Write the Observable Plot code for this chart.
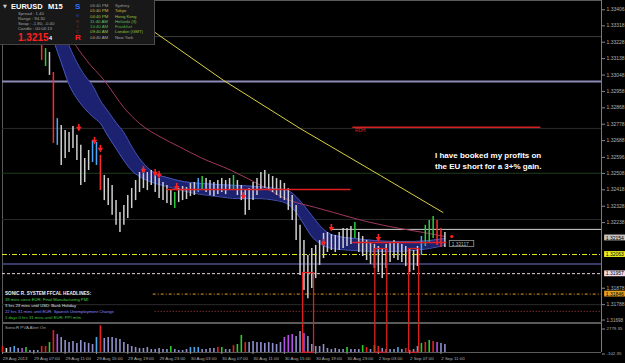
<!DOCTYPE html>
<html>
<head>
<meta charset="utf-8">
<script src="https://cdn.jsdelivr.net/npm/d3@7"></script>
<script src="https://cdn.jsdelivr.net/npm/@observablehq/plot@0.6"></script>
<style>
  html, body { margin:0; padding:0; background:#000; }
  #wrap { position:relative; width:625px; height:363px; overflow:hidden; background:#000; font-family:"Liberation Sans", Arial, sans-serif; }
  #wrap svg { display:block; }
  .t { position:absolute; white-space:nowrap; line-height:1; }
</style>
</head>
<body>
<div id="wrap"></div>
<script>
// ---------------- DATA ----------------
const candleBar = [20,22,24,26,28,30,32,34,36,38,40,42,44,46,48,50,52,54,56,58,60,62,64,66,68,70,72,74,76,78,80,82,84,86,88,90,92,94,96,98,100,102,104,106,108,110,112,114,116,118,120,122,124,126,128,130,132,134,136,138,140,142,144,146,148,150,152,154,156,158,160,162,164,166,168,170,172,174,176,178,180,182,184,186,188,190,192,194,196,198,200,202,204,206,208,210,212,214,216,218,220,222,224,226];
const candleHigh = [1.33215,1.33193,1.33172,1.33062,1.32809,1.32771,1.32744,1.32733,1.32765,1.32717,
 1.32662,1.32590,1.32634,1.32689,1.32678,1.32607,1.32497,1.32480,1.32442,1.32359,
 1.32294,1.32332,1.32387,1.32425,1.32469,1.32513,1.32535,1.32513,1.32524,1.32497,
 1.32480,1.32458,1.32442,1.32414,1.32403,1.32425,1.32436,1.32431,1.32453,1.32458,
 1.32480,1.32491,1.32480,1.32469,1.32458,1.32469,1.32480,1.32469,1.32480,1.32497,
 1.32469,1.32442,1.32414,1.32425,1.32458,1.32480,1.32513,1.32524,1.32502,1.32491,
 1.32480,1.32469,1.32453,1.32425,1.32387,1.32332,1.32223,1.32140,1.32058,1.32096,
 1.32113,1.32140,1.32179,1.32184,1.32173,1.32168,1.32184,1.32206,1.32206,1.32217,
 1.32239,1.32184,1.32162,1.32140,1.32129,1.32118,1.32107,1.32096,1.32118,1.32129,
 1.32140,1.32129,1.32118,1.32107,1.32096,1.32085,1.32107,1.32162,1.32223,1.32250,
 1.32272,1.32250,1.32206,1.32184];
const candleLow = [1.33128,1.33095,1.33046,1.32673,1.32662,1.32552,1.32590,1.32623,1.32645,1.32579,
 1.32442,1.32458,1.32524,1.32568,1.32552,1.32414,1.32359,1.32332,1.32278,1.32223,
 1.32184,1.32223,1.32261,1.32315,1.32359,1.32403,1.32425,1.32414,1.32442,1.32403,
 1.32370,1.32359,1.32343,1.32332,1.32315,1.32348,1.32359,1.32365,1.32381,1.32387,
 1.32403,1.32414,1.32403,1.32387,1.32381,1.32392,1.32403,1.32392,1.32414,1.32414,
 1.32387,1.32359,1.32278,1.32305,1.32359,1.32387,1.32414,1.32425,1.32414,1.32403,
 1.32387,1.32370,1.32359,1.32305,1.32250,1.32140,1.31948,1.31865,1.31821,1.31876,
 1.31931,1.32003,1.32041,1.32074,1.32085,1.32074,1.32085,1.32096,1.32107,1.32118,
 1.32151,1.32074,1.32052,1.32030,1.32008,1.31986,1.31964,1.31931,1.31986,1.32019,
 1.32041,1.32030,1.32019,1.31997,1.31964,1.31975,1.31997,1.32058,1.32107,1.32129,
 1.32151,1.32113,1.32102,1.32102];
const candleSignal = ("rgwrbwwwww"+"wwwbbrwwww"+"wwwwwwwwww"+"wwwwgwwwww"+"bgwwwwwwwg"+
  "wwwwwwwwww"+"wwwwwwwwww"+"wwwwwwwwww"+"gwwwwwwwww"+"wwwwwwwbgg"+"grrw").split("");

const ribbonBar = [22,26,30,34,38,42,46,50,54,58,62,66,70,74,78,84,90,96,102,110,120,130,140,146,150,154,158,162,166,172,180,190,200,210,218,226];
const ribbonUpper = [1.33457,1.33402,1.33320,1.33210,1.33117,1.33046,1.32991,1.32908,1.32848,1.32787,
 1.32733,1.32656,1.32590,1.32541,1.32508,1.32486,1.32469,1.32458,1.32453,1.32447,
 1.32442,1.32436,1.32425,1.32414,1.32381,1.32332,1.32278,1.32223,1.32184,1.32162,
 1.32151,1.32140,1.32135,1.32135,1.32140,1.32151];
const ribbonLower = [1.33336,1.33237,1.33117,1.32996,1.32919,1.32864,1.32820,1.32782,1.32711,1.32645,
 1.32579,1.32524,1.32491,1.32469,1.32453,1.32436,1.32420,1.32403,1.32392,1.32381,
 1.32370,1.32370,1.32359,1.32337,1.32294,1.32228,1.32162,1.32124,1.32102,1.32091,
 1.32085,1.32080,1.32080,1.32085,1.32096,1.32113];

const maBar = [31,36,43,52,62,70,81,91,101,117,132,147,160,169,186,203,215,226];
const maPrice = [1.33347,1.33237,1.33128,1.33018,1.32870,1.32782,1.32706,1.32651,1.32596,1.32524,1.32442,1.32359,1.32321,1.32294,1.32244,1.32206,1.32184,1.32162];

const slowBar = [78,113,152,193,225];
const slowPrice = [1.33281,1.33018,1.32755,1.32497,1.32294];

const levelPrice = [1.33259,1.33013,1.32755,1.32761,1.32509,1.32420,1.32255,1.32201,1.32129,1.32063,1.32011,1.31958,1.31846,1.31788,1.31751];
const levelFrom  = [78,0,0,179,0,84,0,168,179,0,0,0,77,0,78];
const levelTo    = [306,306,306,275,306,178,306,306,227,306,306,306,306,306,306];
const levelKind  = ["grid2","weekly","grid","rdh","green","redbox","grid","white","redbox","yellow","blue","pink","orange","grid","reddot"];

const zoneFrom = [153.3,190.2,207.5];
const zoneTo   = [158.9,196.3,212.6];
const zoneTop  = [1.31964,1.32096,1.32096];

const arrowBar = [39,47,50,72,78,80,89,123,164,168,192];
const arrowPrice = [1.32755,1.32684,1.32640,1.32524,1.32508,1.32497,1.32431,1.32381,1.32124,1.32206,1.32151];

const yTicks = [1.33406,1.33318,1.33228,1.33138,1.33048,1.32958,1.32868,1.32778,1.32688,1.32596,1.32508,1.32418,1.32328,1.32238,1.31878,1.31788];
const yTickBottom = [1.31698];
const boxPrice = [1.32154,1.32063,1.31957,1.31846];
const boxKind = ["bid","yellow","pink","orange"];
const tagBar = [228.5], tagPrice = [1.32121], tagText = ["1.32117"];
const dotBar = [229.5], dotPrice = [1.32162];

const volBar = [0,2,4,6,8,10,12,14,16,18,20,22,24,26,28,30,32,34,36,38,40,42,44,46,48,50,52,54,56,58,60,62,64,66,68,70,72,74,76,78,80,82,84,86,88,90,92,94,96,98,100,102,104,106,108,110,112,114,116,118,120,122,124,126,128,130,132,134,136,138,140,142,144,146,148,150,152,154,156,158,160,162,164,166,168,170,172,174,176,178,180,182,184,186,188,190,192,194,196,198,200,202,204,206,208,210,212,214,216,218,220,222,224,226];
const volValue = [590,360,470,590,360,360,470,130,130,130,
 590,590,1050,2430,1970,1630,1280,1050,1170,940,
 1280,1050,940,820,1630,2980,1510,1630,1630,1510,
 1400,1050,820,590,470,360,360,470,240,240,
 360,240,240,590,240,130,130,240,470,470,
 470,240,240,360,360,470,470,240,240,700,
 820,1860,1050,1050,1170,1050,1050,940,1050,940,
 820,1050,1630,1860,1970,1740,2320,2090,1740,820,
 590,590,820,360,240,360,240,240,470,240,
 240,240,700,470,240,700,590,360,240,240,
 240,470,240,360,130,240,590,940,1050,1280,
 1170,1050,940,820];
const volSignal = ("rwlblpglll"+"rrgrplllll"+"llllbrllll"+"llllllllll"+"lllgllllbb"+"bllllrgllr"+
  "ggrlllllll"+"llpppllpll"+"llllllllgl"+"llgrlgrlll"+"lblrllbgrg"+"rpll").split("");
const volTicks = [2779.35,-102.35];

const dateBar = [0,16,32,48,64,80,96,112,128,144,160,176,192,208,224];
const dateLabels = ["29 Aug 2013","29 Aug 07:00","29 Aug 11:00","29 Aug 15:00","29 Aug 19:00","29 Aug 23:00","30 Aug 03:00","30 Aug 07:00","30 Aug 11:00","30 Aug 15:00","30 Aug 19:00","30 Aug 23:00","2 Sep 03:00","2 Sep 07:00","2 Sep 11:00"];

const infoLines = ["Spread :  1.40","Range :  94.30","Swap :  -1.80, -0.40","Candle :  00:04:13"];
const clockTimes = ["06:40 PM","05:40 PM","04:40 PM","11:40 AM","10:40 AM","09:40 AM","04:40 AM"];
const clockCities = ["Sydney","Tokyo","Hong Kong","Helsinki (3)","Frankfurt","London (GMT)","New York"];
const newsHeader = "SONIC R. SYSTEM  FFCAL HEADLINES:";
const newsLines = ["39 mins since EUR: Final Manufacturing PMI","3 hrs 23 mins until USD: Bank Holiday","22 hrs 31 mins until EUR: Spanish Unemployment Change","1 days 0 hrs 31 mins until EUR: PPI m/m"];
const noteLines = ["I have booked my profits on","the EU short for a 3+% gain."];

// ---------------- STYLES ----------------
const candleColor = {w:"#cfcfcf", r:"#ff2a2a", g:"#2ecc40", b:"#4aa8ff"};
const volColor = {l:"#9090cc", r:"#e82020", g:"#2ccc2c", b:"#4aa8e8", p:"#b650e6", w:"#e0e0e0"};
const levelStyle = {
  grid:{stroke:"#2a2a2a", w:1}, grid2:{stroke:"#3c3c3c", w:1}, weekly:{stroke:"#8c8ab6", w:2},
  green:{stroke:"#1f3d1f", w:1}, white:{stroke:"#d0d0d0", w:1},
  yellow:{stroke:"#e6e620", w:1, dash:"5,2,1,2"}, blue:{stroke:"#4c4c88", w:1.5},
  pink:{stroke:"#ecd2de", w:1, dash:"3,2"}, orange:{stroke:"#e29a20", w:1, dash:"3,2,1,2"},
  reddot:{stroke:"#b03a3a", w:1, dash:"1,2"},
  rdh:{stroke:"#d42020", w:1.5}, redbox:{stroke:"#e02020", w:1.5}
};
const fgKinds = ["rdh","redbox"];
const boxFill = {bid:"#c4c4c4", yellow:"#f0f020", pink:"#f4dce6", orange:"#e8a020"};
const clockColor = ["#9a9a9a","#c8b848","#9cc040","#60c060","#50b050","#90c040","#a0a0a0"];
const newsColor = ["#40d040","#e0e0e0","#8a8aff","#40c040"];

// ---------------- BUILD ----------------
const xDomain = [0, 306];
const yDomain = [1.3169, 1.33457];
const candles = candleBar.map((b,i)=>({bar:b, high:candleHigh[i], low:candleLow[i], s:candleSignal[i]}));
const ribbon = ribbonBar.map((b,i)=>({bar:b, hi:ribbonUpper[i], lo:ribbonLower[i]}));
const ma = maBar.map((b,i)=>({bar:b, p:maPrice[i]}));
const slow = slowBar.map((b,i)=>({bar:b, p:slowPrice[i]}));
const levels = levelPrice.map((p,i)=>({p, from:levelFrom[i], to:levelTo[i], kind:levelKind[i]}));
const zones = zoneFrom.map((f,i)=>({b1:f, b2:zoneTo[i], top:zoneTop[i]}));
const zoneEdges = zones.flatMap(z=>[{bar:z.b1, top:z.top},{bar:z.b2, top:z.top}]);
const arrows = arrowBar.map((b,i)=>({bar:b, p:arrowPrice[i]}));
const boxes = boxPrice.map((p,i)=>({p, kind:boxKind[i]}));
const tags = tagBar.map((b,i)=>({bar:b, p:tagPrice[i], text:tagText[i]}));
const dots = dotBar.map((b,i)=>({bar:b, p:dotPrice[i]}));
const vols = volBar.map((b,i)=>({bar:b, v:volValue[i], s:volSignal[i]}));
const dates = dateBar.map((b,i)=>({bar:b, label:dateLabels[i]}));

const levelMarks = kinds => kinds.map(k => Plot.ruleY(levels.filter(d=>d.kind===k), {
  y:"p", x1:"from", x2:"to", stroke:levelStyle[k].stroke, strokeWidth:levelStyle[k].w, strokeDasharray:levelStyle[k].dash
}));
const bgKinds = Object.keys(levelStyle).filter(k=>!fgKinds.includes(k));
const axisStyle = {anchor:"right", tickSize:3, tickPadding:2, stroke:"#8a8a8a", fill:"#b0b0b0", label:null};

const main = Plot.plot({
  width:625, height:322, marginLeft:2, marginRight:24, marginTop:0, marginBottom:0,
  x:{domain:xDomain, axis:null, label:null}, y:{domain:yDomain, axis:null, label:null},
  color:{type:"identity"},
  style:{background:"transparent", color:"#b0b0b0", fontFamily:"'Liberation Sans', Arial, sans-serif", overflow:"visible"},
  marks:[
    Plot.frame({stroke:"#5a5a5a"}),
    ...levelMarks(bgKinds),
    Plot.areaY(ribbon, {x:"bar", y1:"lo", y2:"hi", fill:"#1d2270", curve:"monotone-x"}),
    Plot.line(ribbon, {x:"bar", y:"hi", stroke:"#4a5cc4", strokeWidth:0.9, curve:"monotone-x"}),
    Plot.line(ribbon, {x:"bar", y:"lo", stroke:"#4a5cc4", strokeWidth:0.9, curve:"monotone-x"}),
    Plot.line(ma, {x:"bar", y:"p", stroke:"#a03860", strokeWidth:1, curve:"monotone-x"}),
    Plot.line(slow, {x:"bar", y:"p", stroke:"#d8d040", strokeWidth:1}),
    Plot.ruleX(candles, {x:"bar", y1:"low", y2:"high", stroke:d=>candleColor[d.s], strokeWidth:1.5}),
    ...levelMarks(fgKinds),
    Plot.ruleX(zoneEdges, {x:"bar", y1:"top", y2:yDomain[0], stroke:"#e02020", strokeWidth:1.3}),
    Plot.ruleY(zones, {y:"top", x1:"b1", x2:"b2", stroke:"#e02020", strokeWidth:1.3}),
    Plot.ruleX(arrows, {x:"bar", y1:"p", y2:d=>d.p+0.00022, stroke:"#ff2020", strokeWidth:1.6}),
    Plot.dot(arrows, {x:"bar", y:"p", symbol:"triangle2", rotate:180, r:2.6, fill:"#ff2020"}),
    Plot.rect(tags, {x1:"bar", x2:d=>d.bar+12.5, y1:d=>d.p-0.00016, y2:d=>d.p+0.00016, fill:"#000", stroke:"#9a9a9a", strokeWidth:0.8}),
    Plot.text(tags, {x:d=>d.bar+1, y:"p", text:"text", textAnchor:"start", fontSize:4.8, fill:"#b8b8b8"}),
    Plot.dot(dots, {x:"bar", y:"p", r:1.6, fill:"#ff2020"}),
    Plot.ruleX([306], {stroke:"#7a7a7a"}),
    Plot.axisY(yTicks, {...axisStyle, tickFormat:d=>d.toFixed(5), fontSize:5}),
    Plot.axisY(yTickBottom, {...axisStyle, tickFormat:d=>d.toFixed(5), fontSize:4.6, dy:-1}),
    Plot.rect(boxes, {x1:307.6, x2:318.6, y1:d=>d.p-0.00016, y2:d=>d.p+0.00016, fill:d=>boxFill[d.kind]}),
    Plot.text(boxes, {x:308.2, y:"p", text:d=>d.p.toFixed(5), textAnchor:"start", fontSize:5, fill:"#000"})
  ]
});

const vTop = 3240;
const vol = Plot.plot({
  width:625, height:41, marginLeft:2, marginRight:24, marginTop:5, marginBottom:11,
  x:{domain:xDomain, axis:null, label:null}, y:{domain:[-102.35, 2779.35], axis:null, label:null},
  color:{type:"identity"},
  style:{background:"transparent", color:"#b0b0b0", fontFamily:"'Liberation Sans', Arial, sans-serif", overflow:"visible"},
  marks:[
    Plot.ruleY([vTop, -102.35], {x1:0, x2:306, stroke:"#5a5a5a"}),
    Plot.ruleX([0], {y1:-102.35, y2:vTop, stroke:"#5a5a5a"}),
    Plot.ruleX(vols, {x:"bar", y1:-102.35, y2:"v", stroke:d=>volColor[d.s], strokeWidth:1.6}),
    Plot.ruleX(zoneEdges, {x:"bar", y1:-70, y2:vTop, stroke:"#e02020", strokeWidth:1.3}),
    Plot.ruleY(zones, {y:-70, x1:"b1", x2:"b2", stroke:"#e02020", strokeWidth:1.3}),
    Plot.ruleX([306], {y1:-102.35, y2:vTop, stroke:"#7a7a7a"}),
    Plot.axisY(volTicks, {...axisStyle, tickFormat:d=>d.toFixed(2), fontSize:4.4, dy:1.5}),
    Plot.ruleX(dates, {x:"bar", y1:-102.35, y2:-330, stroke:"#8a8a8a"}),
    Plot.text(dates, {x:"bar", y:-102.35, dy:6.5, dx:0.3, text:"label", textAnchor:"start", fontSize:4.4, fill:"#b0b0b0"})
  ]
});

const wrap = document.getElementById("wrap");
wrap.appendChild(main);
wrap.appendChild(vol);

function t(x, yc, fs, color, text, weight, family) {
  const d = document.createElement("div");
  d.className = "t";
  d.style.left = x + "px";
  d.style.top = (yc - fs * 0.5) + "px";
  d.style.fontSize = fs + "px";
  d.style.color = color;
  if (weight) d.style.fontWeight = weight;
  if (family) d.style.fontFamily = family;
  d.textContent = text;
  wrap.appendChild(d);
  return d;
}

// info panel
const box = document.createElement("div");
box.style.cssText = "position:absolute;left:0;top:0;width:154px;height:44px;background:#181818;border-right:1px solid #505050;border-bottom:1px solid #444;";
wrap.appendChild(box);
t(3, 6.5, 5, "#d0d0d0", "▼", null, "DejaVu Sans");
t(11, 7, 7.5, "#ffffff", "EURUSD", "bold");
t(48, 7, 7.5, "#ffffff", "M15", "bold");
[14, 19.3, 24.3, 29.3].forEach((y,i)=>t(18, y, 4.3, "#a0a0a0", infoLines[i]));
t(18, 37.5, 10, "#ff2020", "1.3215", "bold");
t(49, 39, 5.5, "#ffffff", "4", "bold");
t(75, 7, 8, "#2f6fff", "S", "bold");
t(76, 15, 5, "#2a3a90", "o", "bold");
t(76, 21, 5, "#5a2a2a", "n", "bold");
t(77, 26, 5, "#5a2a2a", "i", "bold");
t(76, 31, 5, "#5a2a2a", "c", "bold");
t(75, 37.5, 8, "#ff2020", "R", "bold");
[6, 11.5, 16.8, 22, 27, 32.3, 37.7].forEach((y,i)=>{
  t(90, y, 4.3, clockColor[i], clockTimes[i]);
  t(115, y, 4.3, clockColor[i], clockCities[i]);
});

// news
t(5, 294, 4.6, "#f0f0f0", newsHeader, "bold");
[300, 306, 312, 318].forEach((y,i)=>t(5, y, 4.2, newsColor[i], newsLines[i]));

// notes
t(435, 155.5, 8, "#ffffff", noteLines[0], "bold");
t(435, 166.5, 8, "#ffffff", noteLines[1], "bold");
t(355, 131, 4.8, "#e02020", "RDH");
t(5, 328.5, 4.4, "#a8a8a8", "SonicR PVA    Alert On");
</script>
</body>
</html>
